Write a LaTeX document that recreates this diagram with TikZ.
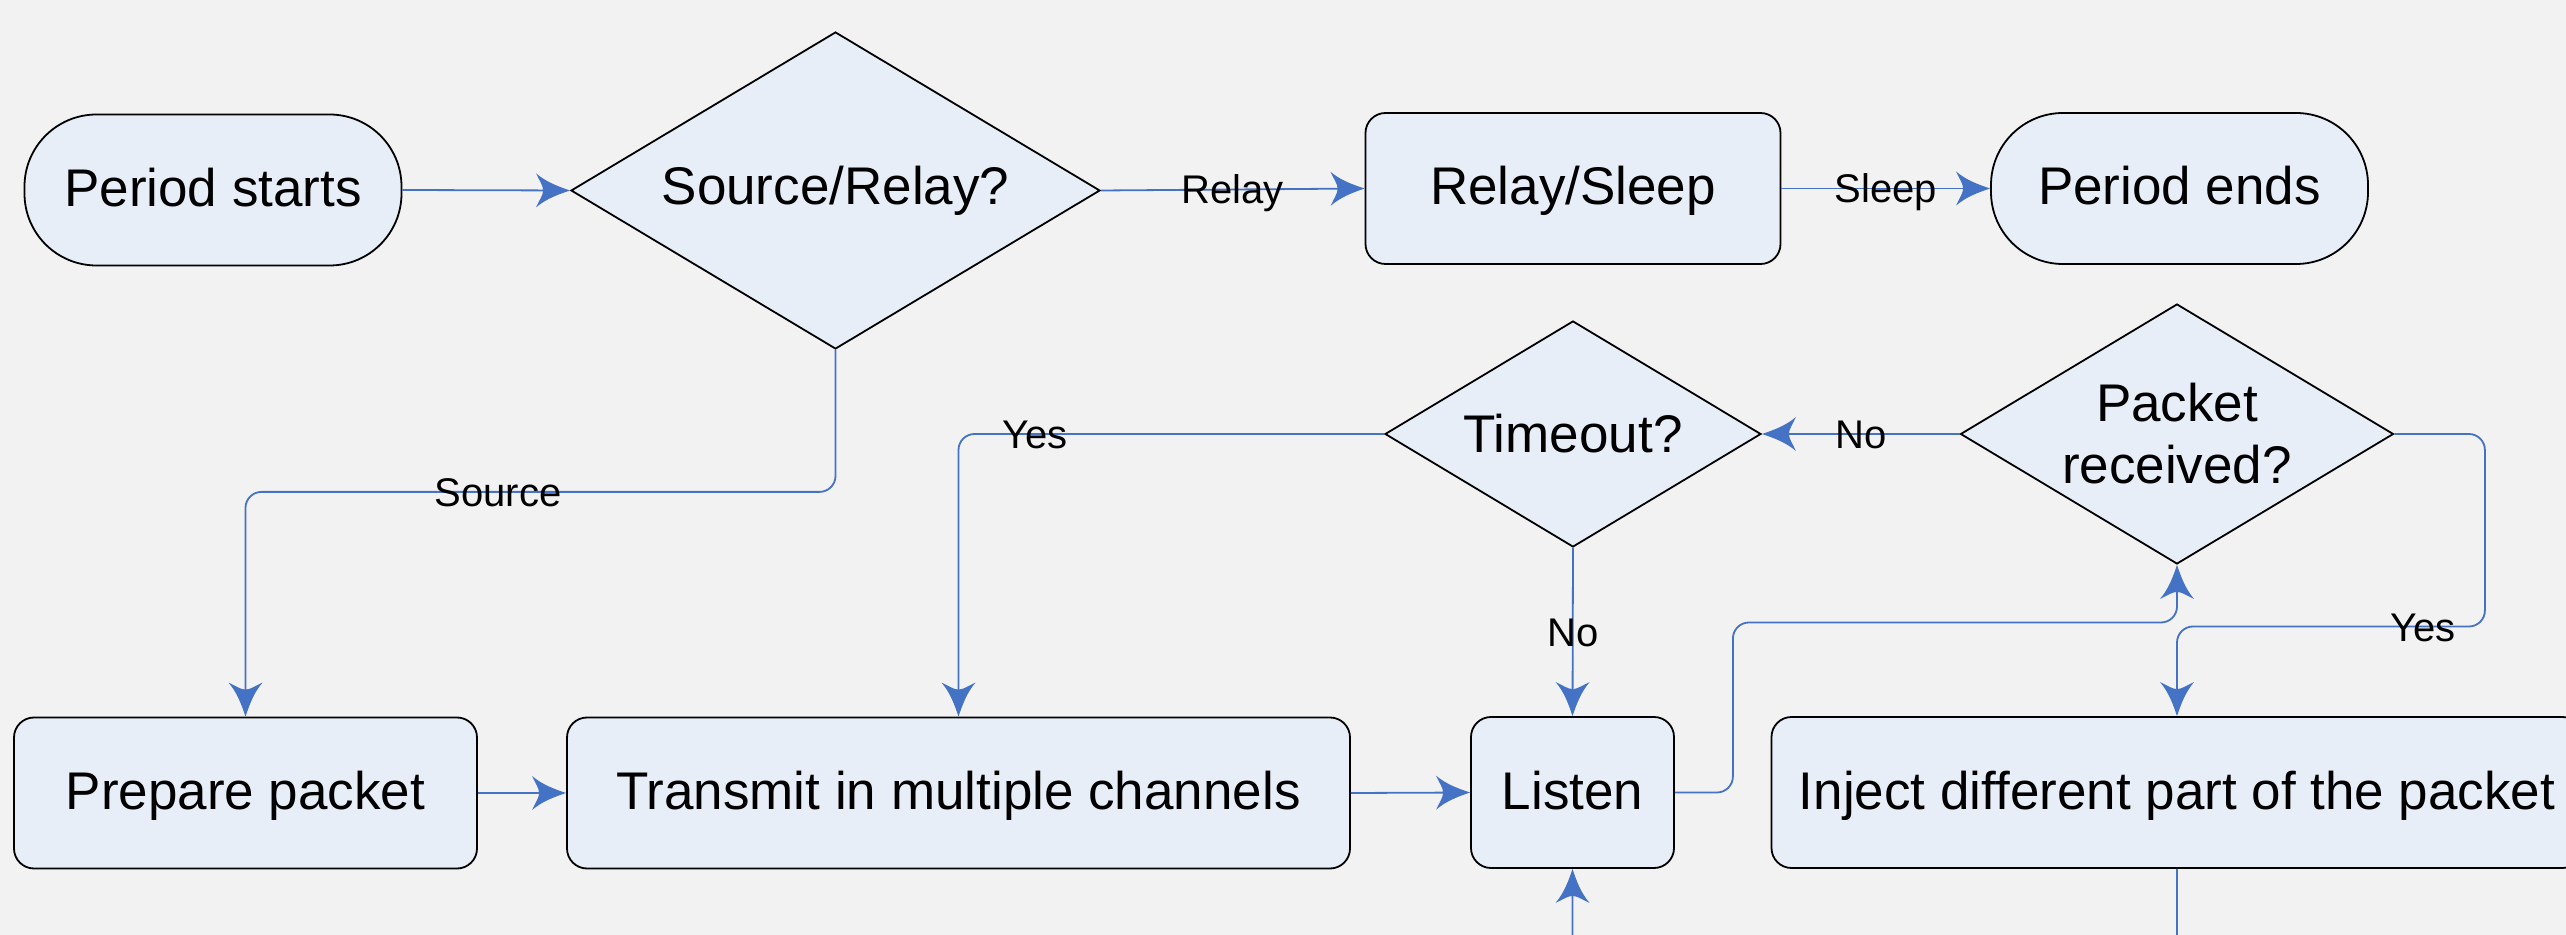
\documentclass[tikz,border=0pt]{standalone}
\usepackage{fontspec}
\setmainfont{Liberation Sans}
\usetikzlibrary{shapes.geometric,arrows.meta,calc}
\definecolor{bg}{HTML}{F2F2F2}
\definecolor{boxfill}{HTML}{E8EEF8}
\definecolor{flowblue}{HTML}{4472C4}

% filled tip with slightly concave sides and a shallow notched back
\pgfdeclarearrow{
  name = Spike,
  setup code = {
    \pgfarrowssettipend{0pt}
    \pgfarrowssetlineend{-12pt}
    \pgfarrowssetbackend{-17pt}
    \pgfarrowssetvisualbackend{-13.5pt}
    \pgfarrowshullpoint{0pt}{0pt}
    \pgfarrowsupperhullpoint{-17pt}{8.5pt}
  },
  drawing code = {
    \pgfpathmoveto{\pgfqpoint{0pt}{0pt}}
    \pgfpathcurveto{\pgfqpoint{-6pt}{2pt}}{\pgfqpoint{-12pt}{4.2pt}}{\pgfqpoint{-17pt}{8.5pt}}
    \pgfpathcurveto{\pgfqpoint{-15.5pt}{5pt}}{\pgfqpoint{-13.5pt}{2.5pt}}{\pgfqpoint{-13.5pt}{0pt}}
    \pgfpathcurveto{\pgfqpoint{-13.5pt}{-2.5pt}}{\pgfqpoint{-15.5pt}{-5pt}}{\pgfqpoint{-17pt}{-8.5pt}}
    \pgfpathcurveto{\pgfqpoint{-12pt}{-4.2pt}}{\pgfqpoint{-6pt}{-2pt}}{\pgfqpoint{0pt}{0pt}}
    \pgfpathclose
    \pgfusepathqfill
  }
}

\begin{document}
\begin{tikzpicture}[x=0.5pt,y=-0.5pt,
  base/.style={draw=black,fill=boxfill,line width=0.9pt,
    font=\fontsize{26.5}{31}\selectfont,inner sep=0pt},
  oneline/.style={base,text height=19pt,text depth=2.5pt},
  term/.style={oneline,rectangle,rounded corners=36pt,minimum width=188.5pt,minimum height=75.5pt},
  proc/.style={oneline,rectangle,rounded corners=10pt,minimum height=75.5pt},
  decide/.style={base,diamond,align=center},
  flow/.style={draw=flowblue,line width=0.9pt,rounded corners=8pt,-Spike},
  lbl/.style={font=\fontsize{20}{24}\selectfont,inner sep=0pt,text height=14.5pt,text depth=0pt}
]
\useasboundingbox (0,0) rectangle (2566,935);
\fill[bg] (0,0) rectangle (2566,935);
\clip (0,0) rectangle (2566,935);

% top row
\node[term] (start) at (213,190) {Period starts};
\node[decide,aspect=1.669,minimum width=264.5pt,minimum height=158.5pt] (sr) at (835.5,190.5) {Source/Relay?};
\node[proc,minimum width=207.5pt] (relay) at (1573,188.5) {Relay/Sleep};
\node[term] (end) at (2179.5,188.5) {Period ends};

% decisions in the listening loop
\node[decide,aspect=1.664,minimum width=188pt,minimum height=113pt] (to) at (1573,434) {Timeout?};
\node[decide,aspect=1.665,minimum width=216.5pt,minimum height=130pt] (pr) at (2177,434) {Packet\\received?};

% bottom row
\node[proc,minimum width=231.5pt] (prep) at (245.5,793) {Prepare packet};
\node[proc,minimum width=391.5pt] (trans) at (958.5,793) {Transmit in multiple channels};
\node[proc,minimum width=101.5pt] (listen) at (1572.5,792.5) {Listen};
\node[proc,minimum width=405.5pt] (inject) at (2177,792.5) {Inject different part of the packet};

% connectors
\draw[flow] (start.east) -- (sr.west);
\draw[flow] (sr.east) -- node[lbl]{Relay} (relay.west);
\draw[flow] (relay.east) -- node[lbl]{Sleep} (end.west);
\draw[flow] (sr.south) -- ++(0,142) -| node[lbl,pos=0.286]{Source} (prep.north);
\draw[flow] (prep.east) -- (trans.west);
\draw[flow] (trans.east) -- (listen.west);
\draw[flow] (listen.east) -| ++(58,-170) -| (pr.south);
\draw[flow] (pr.west) -- node[lbl]{No} (to.east);
\draw[flow] (pr.east) -| ++(90.5,192.5) -| node[lbl,pos=0.1]{Yes} (inject.north);
\draw[flow] (to.west) -| node[lbl,pos=0.41]{Yes} (trans.north);
\draw[flow] (to.south) -- node[lbl]{No} (listen.north);
\draw[flow] (inject.south) -- ++(0,82) -| (listen.south);
\end{tikzpicture}
\end{document}
